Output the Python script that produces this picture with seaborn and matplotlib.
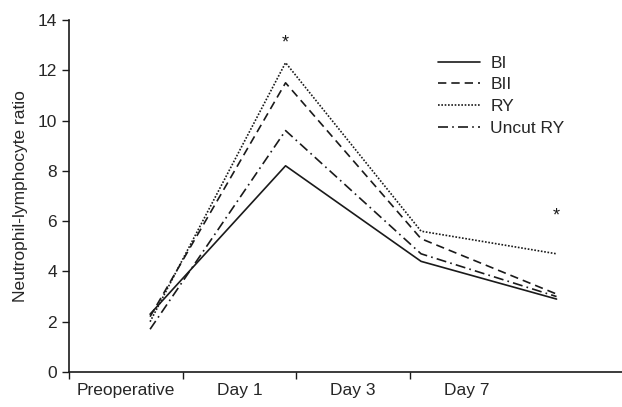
import numpy as np
import pandas as pd
import seaborn as sns
import matplotlib.pyplot as plt

# values
days = ['Preoperative', 'Day 1', 'Day 3', 'Day 7']
groups = ['BI', 'BII', 'RY', 'Uncut RY']
bi = [2.3, 8.2, 4.4, 2.9]
bii = [2.2, 11.5, 5.3, 3.1]
ry = [2.0, 12.3, 5.6, 4.7]
uncut_ry = [1.7, 9.6, 4.7, 3.0]
# where the points sit on the x axis (the original points are offset from the labels)
point_x = [0, 1, 2, 3]
label_x = [-0.177, 0.664, 1.498, 2.339]
bound_x = [-0.598, 0.244, 1.077, 1.919]
star_x = [1, 3]
star_y = [13.1, 6.2]

rows = []
for g, vals in zip(groups, [bi, bii, ry, uncut_ry]):
    for x, v in zip(point_x, vals):
        rows.append({'x': x, 'nlr': v, 'group': g})
df = pd.DataFrame(rows)

sns.set_style('ticks')
plt.rcParams['font.family'] = ['Liberation Sans', 'DejaVu Sans']

fig = plt.figure(figsize=(6.22, 4.07), dpi=100)
ax = fig.add_axes([0.111, 0.086, 0.889, 0.865])

dashes = {'BI': '', 'BII': (5, 3), 'RY': (1, 1), 'Uncut RY': (6, 2.5, 1, 2.5)}
sns.lineplot(data=df, x='x', y='nlr', style='group', dashes=dashes,
             color='#1a1a1a', linewidth=1.2, ax=ax, legend='full')

for x, y in zip(star_x, star_y):
    ax.text(x, y, '*', ha='center', va='center', fontsize=13, color='#1a1a1a')

ax.set_xlim(-0.598, 3.483)
ax.set_ylim(0, 14)
ax.set_yticks(range(0, 15, 2))
ax.set_xticks(bound_x)
ax.set_xticklabels([])
ax.set_xticks(label_x, minor=True)
ax.set_xticklabels(days, minor=True)
ax.tick_params(axis='x', which='minor', length=0, pad=8)
ax.tick_params(axis='both', which='major', length=5, width=1, color='#1a1a1a', labelsize=12.5)
ax.tick_params(axis='x', which='minor', labelsize=12.5)
ax.set_xlabel('')
ax.set_ylabel('Neutrophil-lymphocyte ratio', fontsize=12.5)
ax.yaxis.set_label_coords(-0.074, 0.5)
for s in ['left', 'bottom']:
    ax.spines[s].set_linewidth(1.2)
    ax.spines[s].set_color('#1a1a1a')
sns.despine(ax=ax)

leg = ax.legend(loc='upper left', bbox_to_anchor=(0.655, 0.918), frameon=False,
                fontsize=12.5, handlelength=2.4, handletextpad=0.6,
                labelspacing=0.37, borderaxespad=0)

plt.savefig('out.png', dpi=100)
